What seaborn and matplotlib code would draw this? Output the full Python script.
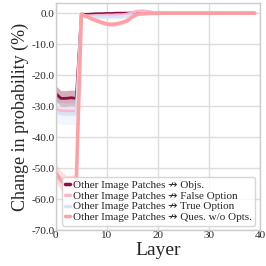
import numpy as np
import pandas as pd
import seaborn as sns
import matplotlib
matplotlib.use("Agg")
import matplotlib.pyplot as plt

layers = list(range(40))

objs = [-26.0, -27.5, -27.5, -27.3, -27.5, -0.3, -0.4, -0.3, -0.2, -0.2,
        -0.1, -0.1, 0.0, 0.0, 0.0, 0.1, 0.1, 0.1, 0.1, 0.0] + [0.0] * 20
false_opt = [-31.0, -31.5, -31.6, -31.6, -31.6, -0.5, -0.8, -0.8, -0.7, -0.7,
             -0.6, -0.6, -0.5, -0.5, -0.3, 0.3, 0.7, 0.8, 0.6, 0.3] + [0.0] * 20
true_opt = [-32.0, -32.3, -32.5, -32.4, -32.5, -0.8, -1.1, -1.2, -1.2, -1.2,
            -1.2, -1.2, -1.2, -1.1, -1.0, -0.6, -0.4, -0.3, -0.2, -0.1] + [0.0] * 20
ques = [-51.5, -54.0, -55.3, -55.3, -55.0, -0.4, -1.0, -1.8, -2.4, -3.0,
        -3.5, -3.6, -3.4, -3.0, -2.4, -1.2, -0.3, -0.2, -0.1, 0.0] + [0.0] * 20

objs_err = [2.5, 2.5, 2.5, 2.5, 2.5, 0.3, 0.4, 0.4, 0.4, 0.4,
            0.3, 0.3, 0.3, 0.3, 0.3, 0.3, 0.2, 0.2, 0.2, 0.1] + [0.05] * 20
false_err = [1.5, 1.5, 1.5, 1.5, 1.5, 0.4, 0.5, 0.5, 0.5, 0.5,
             0.5, 0.5, 0.5, 0.5, 0.5, 0.5, 0.5, 0.5, 0.4, 0.3] + [0.05] * 20
true_err = [3.5, 3.5, 3.5, 3.5, 3.5, 0.5, 0.6, 0.6, 0.6, 0.6,
            0.6, 0.6, 0.6, 0.6, 0.6, 0.5, 0.4, 0.3, 0.2, 0.1] + [0.05] * 20
ques_err = [3.0, 3.0, 3.0, 3.0, 3.0, 0.5, 0.6, 0.7, 0.7, 0.7,
            0.7, 0.7, 0.7, 0.7, 0.7, 0.6, 0.4, 0.3, 0.2, 0.1] + [0.05] * 20

labels = ["Other Image Patches \u219b Objs.",
          "Other Image Patches \u219b False Option",
          "Other Image Patches \u219b True Option",
          "Other Image Patches \u219b Ques. w/o Opts."]
colors = ["#8b0f3c", "#f7b7d4", "#d7e3f7", "#ffa0a5"]
widths = [2.0, 2.0, 2.0, 2.6]

sns.set_theme(style="whitegrid")
plt.rcParams['font.family'] = ['Liberation Serif', 'DejaVu Sans']

fig = plt.figure(figsize=(2.66, 2.66), dpi=100)
ax = fig.add_axes([0.21, 0.135, 0.767, 0.854])

series = [objs, false_opt, true_opt, ques]
errs = [objs_err, false_err, true_err, ques_err]
for vals, err, lab, col, lw in zip(series, errs, labels, colors, widths):
    df = pd.DataFrame({"Layer": layers, "val": vals})
    lo = np.array(vals) - np.array(err)
    hi = np.array(vals) + np.array(err)
    ax.fill_between(layers, lo, hi, color=col, alpha=0.35, linewidth=0)
    sns.lineplot(data=df, x="Layer", y="val", ax=ax, color=col, linewidth=lw, label=lab)

ax.set_xlim(0, 40)
ax.set_ylim(-70, 3.3)
ax.set_xticks([0, 10, 20, 30, 40])
ax.set_yticks([0, -10, -20, -30, -40, -50, -60, -70])
ax.set_yticklabels([f"{v:.1f}" for v in [0, -10, -20, -30, -40, -50, -60, -70]])
ax.tick_params(axis='both', labelsize=8, pad=1, length=0)
ax.set_xlabel("Layer", fontsize=14, labelpad=1)
ax.set_ylabel("Change in probability (%)", fontsize=13, labelpad=2)
ax.grid(True, color="#dddddd", linewidth=1)
for s in ax.spines.values():
    s.set_color("#cccccc")
    s.set_linewidth(1)

leg = ax.legend(loc="lower right", fontsize=8, handlelength=0.4, handletextpad=0.3,
                borderpad=0.3, labelspacing=0.1, frameon=True, borderaxespad=0.4)
leg.get_frame().set_edgecolor("#cccccc")
leg.get_frame().set_alpha(0.8)
for h in leg.get_lines():
    h.set_linewidth(2.5)

fig.savefig("out.png", dpi=100)
